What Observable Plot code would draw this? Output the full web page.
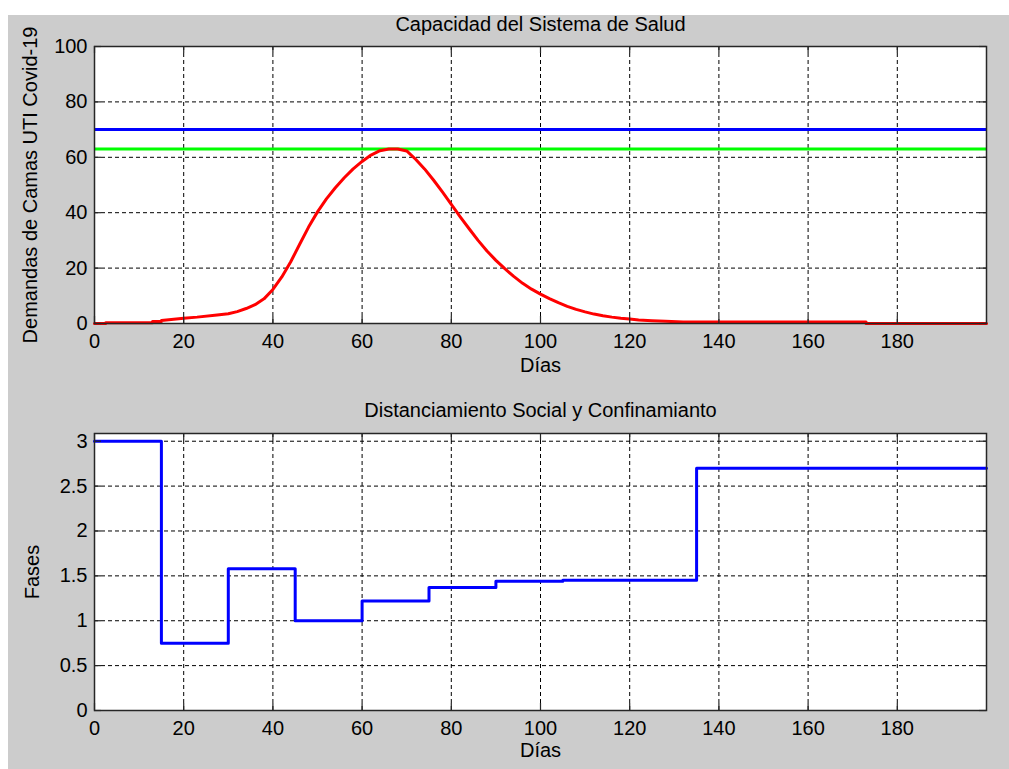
<!DOCTYPE html>
<html>
<head>
<meta charset="utf-8">
<script src="https://cdn.jsdelivr.net/npm/d3@7"></script>
<script src="https://cdn.jsdelivr.net/npm/@observablehq/plot@0.6"></script>
<style>
  html, body { margin: 0; padding: 0; background: #ffffff; }
  #fig { position: relative; width: 1009px; height: 769px; overflow: hidden; }
  #bg { position: absolute; left: 8px; top: 15px; width: 1001px; height: 754px; background: #cccccc; }
  #p1, #p2 { position: absolute; left: 8px; }
  #p1 { top: 15px; }
  #p2 { top: 385px; }
  svg { overflow: visible; }
</style>
</head>
<body>
<div id="fig"><div id="bg"></div><div id="p1"></div><div id="p2"></div></div>
<script>
// ---- data ----
const topTitle = "Capacidad del Sistema de Salud";
const topYLabel = "Demandas de Camas UTI Covid-19";
const bottomTitle = "Distanciamiento Social y Confinamianto";
const bottomYLabel = "Fases";
const xLabel = "Días";

const xTicks = [0, 20, 40, 60, 80, 100, 120, 140, 160, 180];
const topYTicks = [0, 20, 40, 60, 80, 100];
const bottomYTicks = [0, 0.5, 1, 1.5, 2, 2.5, 3];

const capacityTotal = 70;   // blue line
const capacityLimit = 63;   // green line

const demandDays = [0, 2.5, 2.5, 13, 13, 15, 15, 20, 23, 27.5, 30, 32, 34, 36, 38, 40, 42, 44, 46, 48, 50, 52, 54, 56, 58, 60, 62, 64, 66, 68, 70, 72, 74, 76, 78, 80, 82, 84, 86, 88, 90, 92, 94, 96, 98, 100, 102, 104, 106, 108, 110, 112, 114, 116, 118, 120, 122, 125, 128, 132, 173, 173, 200];
const demandBeds = [0, 0, 0.3, 0.3, 0.7, 0.7, 1.1, 1.9, 2.3, 3.1, 3.5, 4.3, 5.4, 6.8, 8.9, 12.3, 16.8, 22.3, 28.6, 34.8, 40.3, 45.0, 49.0, 52.6, 55.8, 58.5, 60.8, 62.4, 63, 63, 62.3, 59.3, 55.8, 51.8, 47.5, 43, 38.5, 34.2, 30, 26.2, 22.8, 19.8, 17, 14.5, 12.4, 10.6, 9, 7.5, 6.2, 5.1, 4.2, 3.4, 2.8, 2.3, 1.9, 1.6, 1.3, 1.0, 0.8, 0.5, 0.5, 0, 0];

const phaseDays = [0, 15, 30, 45, 60, 75, 90, 105, 135, 200];
const phaseValues = [3, 0.75, 1.58, 1.0, 1.22, 1.37, 1.44, 1.45, 2.7, 2.7];

// ---- build ----
const demand = demandDays.map((d, i) => ({day: d, beds: demandBeds[i]}));
const phases = phaseDays.map((d, i) => ({day: d, phase: phaseValues[i]}));

const W = 1001;
const FONT = "'Liberation Sans', Arial, sans-serif";
const FS = 20;
const axisColor = "#262626";
const tickLen = 7;

function panel({height, marginTop, marginBottom, yDomain, yTicks, title, yLabel, titleDy, xLabelDy, yLabelDx, marks}) {
  const marginLeft = 86, marginRight = 23;
  const pw = W - marginLeft - marginRight;
  const ph = height - marginTop - marginBottom;
  return Plot.plot({
    width: W,
    height,
    marginLeft, marginRight, marginTop, marginBottom,
    x: {domain: [0, 200]},
    y: {domain: yDomain},
    style: {fontFamily: FONT, fontSize: FS + "px", color: "black", background: "transparent", overflow: "visible"},
    marks: [
      Plot.frame({fill: "white", stroke: null}),
      Plot.gridX(xTicks.filter(d => d > 0), {stroke: "black", strokeOpacity: 1, strokeWidth: 1, strokeDasharray: "4,3"}),
      Plot.gridY(yTicks.filter(d => d > 0 && d < yDomain[1]), {stroke: "black", strokeOpacity: 1, strokeWidth: 1, strokeDasharray: "4,3"}),
      ...marks,
      Plot.tickX(xTicks, {x: d => d, stroke: axisColor, strokeWidth: 1.2, insetTop: ph - tickLen}),
      Plot.tickX(xTicks, {x: d => d, stroke: axisColor, strokeWidth: 1.2, insetBottom: ph - tickLen}),
      Plot.tickY(yTicks, {y: d => d, stroke: axisColor, strokeWidth: 1.2, insetRight: pw - tickLen}),
      Plot.tickY(yTicks, {y: d => d, stroke: axisColor, strokeWidth: 1.2, insetLeft: pw - tickLen}),
      Plot.frame({stroke: axisColor, strokeWidth: 1.5}),
      Plot.axisX(xTicks, {anchor: "bottom", tickSize: 0, tickPadding: 10, fontSize: FS, fill: "black", label: null, tickFormat: d => String(d)}),
      Plot.axisY(yTicks, {anchor: "left", tickSize: 0, tickPadding: 7, fontSize: FS, fill: "black", label: null, tickFormat: d => String(d)}),
      Plot.text([title], {frameAnchor: "top", dy: titleDy, text: d => d, fontSize: FS, fill: "black", lineAnchor: "middle", textAnchor: "middle"}),
      Plot.text([xLabel], {frameAnchor: "bottom", dy: xLabelDy, text: d => d, fontSize: FS, fill: "black", lineAnchor: "middle", textAnchor: "middle"}),
      Plot.text([yLabel], {frameAnchor: "left", dx: yLabelDx, rotate: -90, text: d => d, fontSize: FS, fill: "black", lineAnchor: "middle", textAnchor: "middle"})
    ]
  });
}

const topChart = panel({
  height: 370, marginTop: 31, marginBottom: 62,
  yDomain: [0, 100], yTicks: topYTicks,
  title: topTitle, yLabel: topYLabel,
  titleDy: -22, xLabelDy: 42, yLabelDx: -64,
  marks: [
    Plot.ruleY([capacityTotal], {stroke: "#0000ff", strokeWidth: 3}),
    Plot.ruleY([capacityLimit], {stroke: "#00ff00", strokeWidth: 3}),
    Plot.line(demand, {x: "day", y: "beds", stroke: "#ff0000", strokeWidth: 3})
  ]
});
document.getElementById("p1").appendChild(topChart);

const bottomChart = panel({
  height: 384, marginTop: 48, marginBottom: 59,
  yDomain: [0, 3.086], yTicks: bottomYTicks,
  title: bottomTitle, yLabel: bottomYLabel,
  titleDy: -23, xLabelDy: 40, yLabelDx: -62,
  marks: [
    Plot.line(phases, {x: "day", y: "phase", curve: "step-after", stroke: "#0000ff", strokeWidth: 3})
  ]
});
document.getElementById("p2").appendChild(bottomChart);
</script>
</body>
</html>
